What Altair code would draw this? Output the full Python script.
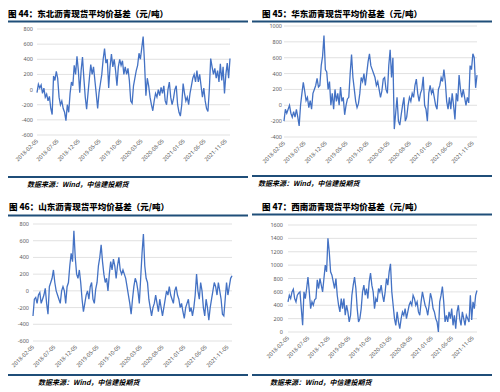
import altair as alt
import pandas as pd

# ---------------- data ----------------
TICK_LABELS = ['2018-02-05', '2018-07-05', '2018-12-05', '2019-05-05', '2019-10-05',
               '2020-03-05', '2020-08-05', '2021-01-05', '2021-06-05', '2021-11-05']
START = '2018-02-05'
END = '2021-12-06'

TITLES = ['图 44：东北沥青现货平均价基差（元/吨）',
          '图 45：华东沥青现货平均价基差（元/吨）',
          '图 46：山东沥青现货平均价基差（元/吨）',
          '图 47：西南沥青现货平均价基差（元/吨）']
SOURCE = '数据来源：Wind，中信建投期货'

# 东北
NE = [-40, 70, 20, 60, -50, 20, -100, -60, -150, -90,
      -250, -330, 180, 120, 240, 150, -100, -200, -150, -250,
      -300, -410, -200, -300, -50, 100, 50, 320, 200, 440,
      250, -40, 250, 430, 150, -100, -260, -50, 150, 330,
      200, 300, 120, -60, -250, -40, 80, 200, 400, 540,
      350, 400, 20, 300, 470, 300, 400, 250, 50, 300,
      400, 320, 380, 200, 300, 200, 280, 120, -150, -180,
      50, 150, 250, 320, 480, 400, 550, 700, 350, -80,
      150, 50, -100, -200, -280, -150, -50, -100, 0, -80,
      30, -50, 50, -150, -200, 0, 100, -100, -200, -120,
      0, 50, -200, -300, -350, -200, 80, -50, -150, -100,
      -200, -50, 50, 150, 200, 100, 250, 100, 200, 50,
      -100, 20, -150, -250, -290, 0, 410, 300, 200, 280,
      150, 250, 100, 340, 120, 300, -50, 200, 350, 150, 410]

# 华东
EC = [-200, -50, -100, -50, 0, -100, -150, -80, -150, -50,
      -150, -260, 0, 150, 290, 180, 60, 100, -30, 60,
      -50, 150, 200, 250, 340, 230, 250, 500, 620, 880,
      450, 420, 200, 300, 0, 150, -50, 200, 50, 150,
      0, 230, 50, 100, -120, 0, 80, 100, 400, 640,
      350, 200, 50, -30, 20, 150, 350, 300, 400, 250,
      400, 550, 650, 500, 450, 400, 350, 250, 300, 200,
      100, 180, 330, 350, 200, 150, 500, 700, 350, 600,
      -300, -100, 100, -200, -250, -120, 0, 100, -200, -150,
      0, 100, 50, 150, 100, 250, 330, 150, 50, 150,
      200, 360, 0, -50, -200, 150, 250, 150, 200, 100,
      0, -50, 200, 250, 350, 300, 450, 300, 50, -50,
      100, -50, 150, 0, -180, 150, 50, 380, 200, 100,
      200, 100, 0, 100, 30, 500, 450, 650, 600, 220, 380]

# 山东
SD = [-300, -100, -80, -150, -50, -20, -150, -100, -50, 30,
      -150, -280, 50, 100, 150, 250, 100, 0, -50, -100,
      -150, 0, 50, 0, -150, 50, 100, 300, 450, 350,
      720, 400, 200, 150, 250, 100, -100, -250, -150, -50,
      0, -100, 50, 100, -100, -150, 20, 100, 300, 400,
      550, 350, 200, 100, 150, 0, 200, 350, 250, 380,
      300, 150, 300, 400, 250, 200, 250, 200, 150, 50,
      -50, -150, -280, -100, 50, 150, 100, 0, -150, 150,
      450, 680, 300, 150, 100, -100, -200, -300, -200, -150,
      -50, -150, -250, -100, -200, -300, -200, -100, 0, -50,
      50, -50, -100, -150, 0, 50, -50, -100, -200, -150,
      -250, -330, -200, -150, -100, -250, -200, -300, -200, -50,
      200, 0, -100, 100, 0, -200, -300, -100, -200, -350,
      -200, -100, 0, 100, 50, -50, 100, 0, -100, -280,
      -300, -100, 100, -50, 50, 150, 180]

# 西南
SW = [450, 550, 500, 600, 640, 500, 450, 550, 580, 600,
      350, 100, 600, 500, 650, 820, 600, 350, 450, 400,
      480, 500, 780, 650, 800, 700, 600, 800, 1000, 900,
      1400, 1200, 900, 850, 750, 650, 800, 550, 400, 300,
      500, 350, 500, 250, 400, 300, 150, 250, 550, 700,
      820, 650, 350, 150, 200, 350, 600, 700, 550, 650,
      500, 750, 880, 700, 600, 350, 500, 450, 650, 600,
      700, 550, 450, 600, 800, 700, 900, 1020, 600, 400,
      200, 100, 300, 150, 50, 200, 300, 250, 350, 200,
      300, 400, 450, 400, 550, 500, 400, 450, 300, 250,
      450, 600, 500, 400, 350, 250, 400, 580, 500, 350,
      300, 200, 150, 0, 450, 550, 680, 450, 150, 250,
      150, 300, 200, 350, 100, 250, 50, 300, 400, 200,
      100, 300, 200, 100, 250, 200, 150, 550, 180, 450,
      350, 550, 620]

Y_TICKS_NE = [-600, -400, -200, 0, 200, 400, 600, 800]
Y_TICKS_EC = [-400, -200, 0, 200, 400, 600, 800, 1000]
Y_TICKS_SD = [-600, -400, -200, 0, 200, 400, 600, 800]
Y_TICKS_SW = [0, 200, 400, 600, 800, 1000, 1200, 1400, 1600]

# ---------------- style ----------------
LINE_COLOR = '#4472C4'
RULE_COLOR = '#1F4E79'
GRID_COLOR = '#D9D9D9'
LABEL_COLOR = '#595959'
CJK = 'Noto Sans CJK SC'
LATIN = 'Noto Sans'

X_DOMAIN = [alt.DateTime(year=2018, month=2, date=5),
            alt.DateTime(year=2021, month=12, date=6)]


def panel(values, yticks, xr, yr, ylab_x, title, title_xy, band, top_y, bottom_y, src_xy):
    dates = pd.date_range(START, END, periods=len(values))
    df = pd.DataFrame({'date': dates, 'value': values})
    xs = alt.Scale(domain=X_DOMAIN, range=xr)
    ys = alt.Scale(domain=[min(yticks), max(yticks)], range=yr)
    ydf = pd.DataFrame({'v': yticks, 'lab': [str(v) for v in yticks]})
    tdf = pd.DataFrame({'d': [t + 'T00:00:00' for t in TICK_LABELS], 'lab': TICK_LABELS})

    grid = alt.Chart(ydf).mark_rule(color=GRID_COLOR, strokeWidth=0.8).encode(
        y=alt.Y('v:Q', scale=ys, axis=None),
        x=alt.value(xr[0]), x2=alt.value(xr[1]))
    ylab = alt.Chart(ydf).mark_text(align='right', baseline='middle', fontSize=5.5,
                                    color=LABEL_COLOR, font=LATIN).encode(
        y=alt.Y('v:Q', scale=ys, axis=None),
        x=alt.value(ylab_x), text='lab:N')
    xlab = alt.Chart(tdf).mark_text(angle=315, align='right', baseline='middle', fontSize=5.5,
                                    color=LABEL_COLOR, font=LATIN).encode(
        x=alt.X('d:T', scale=xs, axis=None),
        y=alt.value(yr[0] + 5), text='lab:N')
    line = alt.Chart(df).mark_line(color=LINE_COLOR, strokeWidth=1.3).encode(
        x=alt.X('date:T', scale=xs, axis=None),
        y=alt.Y('value:Q', scale=ys, axis=None))
    ttl = alt.Chart(pd.DataFrame({'t': [title]})).mark_text(
        align='left', baseline='top', fontSize=8.5, fontWeight=900, font=CJK,
        color='#000000').encode(
        x=alt.value(title_xy[0]), y=alt.value(title_xy[1]), text='t:N')
    top_rule = alt.Chart(pd.DataFrame({'k': [0]})).mark_rule(
        color=RULE_COLOR, strokeWidth=1.8).encode(
        x=alt.value(band[0]), x2=alt.value(band[1]), y=alt.value(top_y))
    bot_rule = alt.Chart(pd.DataFrame({'k': [0]})).mark_rule(
        color=RULE_COLOR, strokeWidth=1.8).encode(
        x=alt.value(band[0]), x2=alt.value(band[1]), y=alt.value(bottom_y))
    src = alt.Chart(pd.DataFrame({'t': [SOURCE]})).mark_text(
        align='left', baseline='middle', fontSize=7, fontWeight='bold', fontStyle='italic',
        font=CJK, color='#000000').encode(
        x=alt.value(src_xy[0]), y=alt.value(src_xy[1]), text='t:N')
    return [grid, ylab, xlab, line, ttl, top_rule, bot_rule, src]


layers = []
layers += panel(NE, Y_TICKS_NE, [29, 222], [127, 21], 25, TITLES[0], (0, 2),
                (0, 240), 13.5, 169, (19, 177))
layers += panel(EC, Y_TICKS_EC, [276, 469], [129, 18], 274, TITLES[1], (254, 2),
                (244, 484), 13.5, 168, (250, 176))
layers += panel(SD, Y_TICKS_SD, [25, 224], [333, 216], 21, TITLES[2], (1, 195),
                (0, 240), 207.5, 367, (30, 375))
layers += panel(SW, Y_TICKS_SW, [280, 469], [324, 217], 275, TITLES[3], (254, 195),
                (244, 484), 206.5, 367, (262, 375))

chart = alt.layer(*layers).resolve_scale(
    x='independent', y='independent'
).properties(
    width=484, height=382,
    autosize=alt.AutoSizeParams(type='none'),
    padding=0,
    background='white'
).configure_view(stroke=None)

chart.save("out.html", embed_options={"renderer": "svg", "actions": False})
